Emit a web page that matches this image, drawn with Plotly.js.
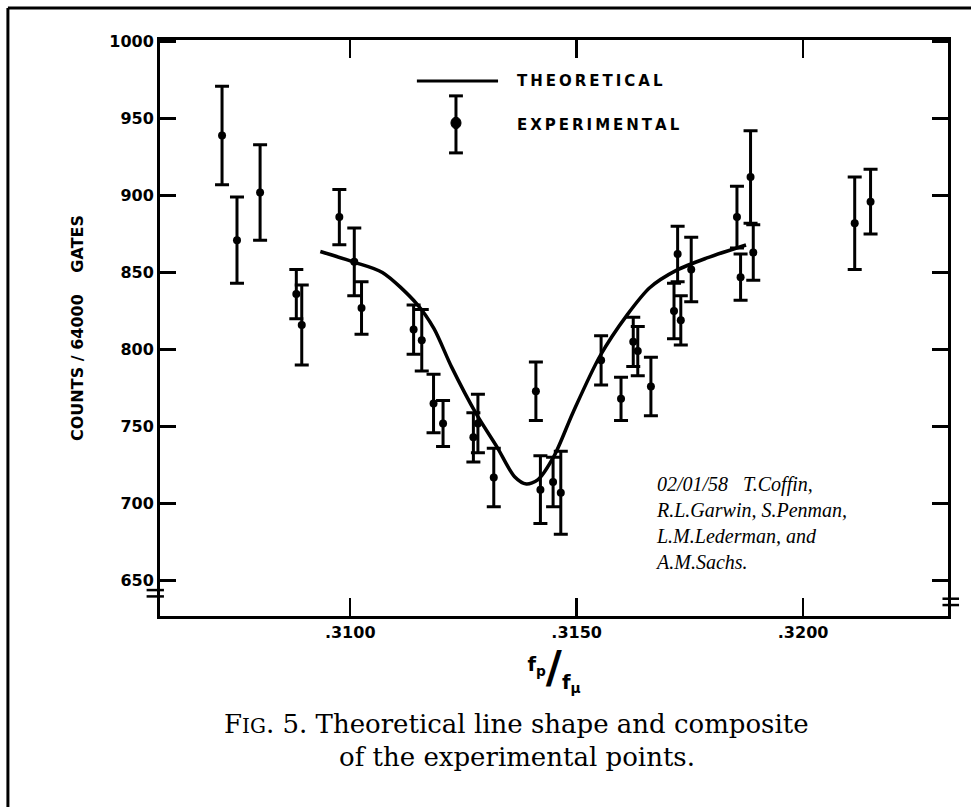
<!DOCTYPE html>
<html>
<head>
<meta charset="utf-8">
<script src="https://cdn.plot.ly/plotly-3.0.1.min.js"></script>
<style>html,body{margin:0;padding:0;background:#fff;}#chart{width:971px;height:807px;}</style>
</head>
<body>
<div id="chart"></div>
<script>
// Experimental points (f_p/f_mu, counts per 64000 gates, error)
const expX = [0.30717,0.30750,0.30801,0.30881,0.30893,0.30976,0.31009,0.31025,0.31140,0.31158,0.31184,0.31205,0.31272,0.31282,0.31317,0.31410,0.31420,0.31448,0.31465,0.31554,0.31598,0.31625,0.31635,0.31664,0.31715,0.31723,0.31730,0.31753,0.31854,0.31862,0.31884,0.31890,0.32114,0.32149];
const expY = [939,871,902,836,816,886,857,827,813,806,765,752,743,752,717,773,709,714,707,793,768,805,799,776,825,862,819,852,886,847,912,863,882,896];
const expErr = [32,28,31,16,26,18,22,17,16,20,19,15,16,19,19,19,22,16,27,16,14,16,16,19,18,18,16,21,20,15,30,18,30,21];

// Theoretical line shape
const thX = [0.30934,0.31008,0.31071,0.31147,0.31185,0.31224,0.31278,0.31324,0.31363,0.31389,0.31414,0.31450,0.31492,0.31551,0.31612,0.31662,0.31720,0.31786,0.31874];
const thY = [863.7,856.8,850.1,829.7,813.6,788.6,758.4,736.8,717.4,712.7,715.4,730.8,759.2,795.5,822.7,840.3,851.4,859.3,867.9];

// Tick labels
const xTickVals = [0.3100,0.3150,0.3200];
const xTickText = ['.3100','.3150','.3200'];
const yTickVals = [650,700,750,800,850,900,950,1000];

const legendNames = ['THEORETICAL','EXPERIMENTAL'];
const yTitle = 'COUNTS / 64000\u2003 GATES';
const captionLine1 = 'F<span style="font-size:20px">IG</span>. 5. Theoretical line shape and composite';
const captionLine2 = 'of the experimental points.';
const authors = '02/01/58\u2002 T.Coffin,<br>R.L.Garwin, S.Penman,<br>L.M.Lederman, and<br>A.M.Sachs.';

const spaced = s => s.split('').join('\u2009');

const traces = [
  {
    x: thX, y: thY, type: 'scatter', mode: 'lines',
    line: {color: '#000', width: 3.5, shape: 'spline', smoothing: 0.8},
    name: legendNames[0], showlegend: false, hoverinfo: 'skip'
  },
  {
    x: expX, y: expY, type: 'scatter', mode: 'markers',
    marker: {color: '#000', size: 8, symbol: 'circle'},
    error_y: {type: 'data', array: expErr, visible: true, color: '#000', thickness: 3, width: 7},
    name: legendNames[1], showlegend: false
  }
];

const black = '#000';
const shapes = [
  // legend glyphs
  {type:'line', xref:'paper', yref:'paper', x0:0.326, x1:0.429, y0:0.929, y1:0.929, line:{color:black, width:3}},
  {type:'line', xref:'paper', yref:'paper', x0:0.3756, x1:0.3756, y0:0.804, y1:0.903, line:{color:black, width:3}},
  {type:'line', xref:'paper', yref:'paper', x0:0.3668, x1:0.3844, y0:0.903, y1:0.903, line:{color:black, width:3}},
  {type:'line', xref:'paper', yref:'paper', x0:0.3668, x1:0.3844, y0:0.804, y1:0.804, line:{color:black, width:3}},
  {type:'circle', xref:'paper', yref:'paper', x0:0.3692, x1:0.382, y0:0.846, y1:0.866, fillcolor:black, line:{color:black, width:1}},
  // axis breaks
  {type:'line', xref:'paper', yref:'paper', x0:-0.017, x1:0.005, y0:0.045, y1:0.045, line:{color:black, width:2.5}},
  {type:'line', xref:'paper', yref:'paper', x0:-0.017, x1:0.005, y0:0.034, y1:0.034, line:{color:black, width:2.5}},
  {type:'line', xref:'paper', yref:'paper', x0:0.993, x1:1.014, y0:0.030, y1:0.030, line:{color:black, width:2.5}},
  {type:'line', xref:'paper', yref:'paper', x0:0.993, x1:1.014, y0:0.019, y1:0.019, line:{color:black, width:2.5}},
  // outer frame (top and left)
  {type:'line', xref:'paper', yref:'paper', x0:-0.193, x1:1.03, y0:1.0556, y1:1.0556, line:{color:black, width:3}},
  {type:'line', xref:'paper', yref:'paper', x0:-0.193, x1:-0.193, y0:1.0556, y1:-0.34, line:{color:black, width:3}}
];

const annotations = [
  {xref:'paper', yref:'paper', x:0.4505, y:0.929, xanchor:'left', yanchor:'middle', showarrow:false,
   text:'<b>'+spaced(legendNames[0])+'</b>', font:{family:'DejaVu Sans', size:15, color:black}},
  {xref:'paper', yref:'paper', x:0.4505, y:0.852, xanchor:'left', yanchor:'middle', showarrow:false,
   text:'<b>'+spaced(legendNames[1])+'</b>', font:{family:'DejaVu Sans', size:15, color:black}},
  {xref:'paper', yref:'paper', x:0.6256, y:0.252, xanchor:'left', yanchor:'top', align:'left', showarrow:false,
   text:'<i>'+authors+'</i>', font:{family:'Liberation Serif', size:20, color:black}},
  {xref:'paper', yref:'paper', x:0.4525, y:-0.188, xanchor:'center', yanchor:'middle', showarrow:false,
   text:captionLine1, font:{family:'DejaVu Serif', size:26, color:black}},
  {xref:'paper', yref:'paper', x:0.4525, y:-0.245, xanchor:'center', yanchor:'middle', showarrow:false,
   text:captionLine2, font:{family:'DejaVu Serif', size:26, color:black}}
];

const layout = {
  width: 971, height: 807,
  margin: {l:160, r:23, t:40, b:191},
  paper_bgcolor:'#fff', plot_bgcolor:'#fff',
  showlegend:false,
  xaxis: {
    range:[0.3058, 0.3232], tickvals:xTickVals, ticktext:xTickText,
    ticks:'inside', ticklen:18, tickwidth:2.5, tickcolor:black,
    showline:true, linecolor:black, linewidth:3, mirror:'ticks',
    showgrid:false, zeroline:false,
    tickfont:{family:'DejaVu Sans', size:16, color:black, weight:'bold'},
    title:{text:'<b><sup>f<sub>p</sub></sup><span style="font-size:44px">/</span><sub>f<sub>μ</sub></sub></b>', standoff:10,
      font:{family:'DejaVu Sans', size:28, color:black}}
  },
  yaxis: {
    range:[627, 1001], tickvals:yTickVals,
    ticks:'inside', ticklen:16, tickwidth:2.5, tickcolor:black,
    showline:true, linecolor:black, linewidth:3, mirror:'ticks',
    showgrid:false, zeroline:false,
    tickfont:{family:'DejaVu Sans', size:16, color:black, weight:'bold'},
    title:{text:'<b>'+yTitle+'</b>', standoff:22, font:{family:'DejaVu Sans', size:16, color:black}}
  },
  shapes: shapes,
  annotations: annotations
};

Plotly.newPlot('chart', traces, layout, {staticPlot:true, displayModeBar:false});
</script>
</body>
</html>
